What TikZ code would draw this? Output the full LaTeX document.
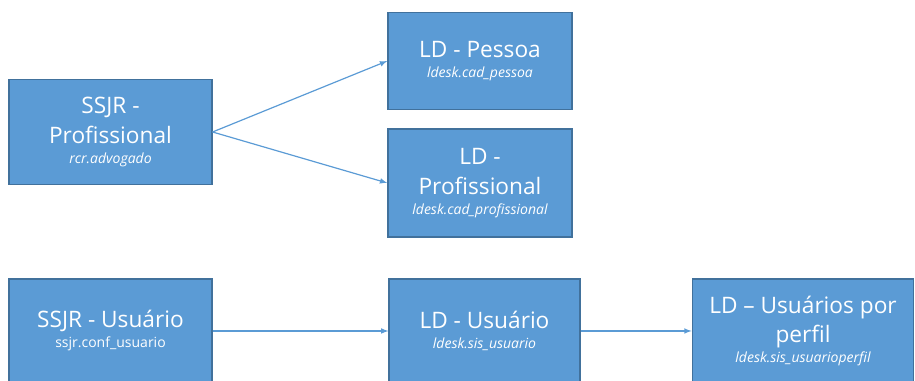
\documentclass[tikz,border=0pt]{standalone}
\usepackage{fontspec}
\setmainfont{Open Sans}
\usetikzlibrary{arrows}
\usetikzlibrary{shapes}
\definecolor{boxFill}{HTML}{5B9BD5}
\definecolor{boxLine}{HTML}{41719C}
\newcommand{\tabname}[1]{{\fontsize{10.5}{13}\selectfont\itshape #1}}

\begin{document}
\begin{tikzpicture}[x = 0.75pt, y = 0.75pt]
	\tikzstyle{tableStyle}=[shape = rectangle, draw = boxLine, line width = 1.1pt, fill = boxFill, text = white, align = center, inner sep = 0pt, font = \fontsize{17}{22}\selectfont]
	\tikzstyle{linkStyle}=[draw = boxFill, line width = 0.9pt, -latex]
	\useasboundingbox (0, 0) rectangle (915, 381);
	\node[tableStyle, minimum width = 152pt, minimum height = 79pt] (ssjrProf) at (110.5, 249) {SSJR -\\Profissional\\[-7pt]\tabname{rcr.advogado}};
	\node[tableStyle, minimum width = 138pt, minimum height = 73pt] (ldPessoa) at (480, 320) {LD - Pessoa\\[-7pt]\tabname{ldesk.cad\_pessoa}};
	\node[tableStyle, minimum width = 138pt, minimum height = 81pt] (ldProf) at (480, 198) {LD -\\Profissional\\[-7pt]\tabname{ldesk.cad\_profissional}};
	\node[tableStyle, minimum width = 152pt, minimum height = 78pt] (ssjrUser) at (110.5, 50) {SSJR - Usuário\\[-7pt]{\fontsize{10.5}{13}\selectfont ssjr.conf\_usuario}};
	\node[tableStyle, minimum width = 143pt, minimum height = 78pt] (ldUser) at (484.5, 50) {LD - Usuário\\[-7pt]\tabname{ldesk.sis\_usuario}};
	\node[tableStyle, minimum width = 166pt, minimum height = 78pt] (ldPerfil) at (803, 50) {LD -- Usuários por\\perfil\\[-7pt]\tabname{ldesk.sis\_usuarioperfil}};
	\draw[linkStyle] (ssjrProf.east) -- (ldPessoa.west);
	\draw[linkStyle] (ssjrProf.east) -- (ldProf.west);
	\draw[linkStyle] (ssjrUser.east) -- (ldUser.west);
	\draw[linkStyle] (ldUser.east) -- (ldPerfil.west);
\end{tikzpicture}
\end{document}
